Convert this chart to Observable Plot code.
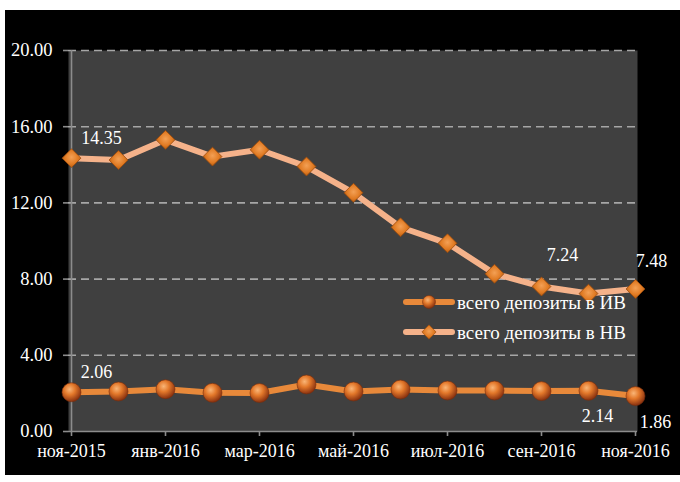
<!DOCTYPE html>
<html>
<head>
<meta charset="utf-8">
<script src="https://cdn.jsdelivr.net/npm/d3@7"></script>
<script src="https://cdn.jsdelivr.net/npm/@observablehq/plot@0.6"></script>
<style>
  html, body { margin: 0; padding: 0; background: #ffffff; }
  #chart { position: absolute; left: 5px; top: 10px; }
  svg { display: block; }
</style>
</head>
<body>
<div id="chart"></div>
<script>
const months = ["ноя-2015","дек-2015","янв-2016","фев-2016","мар-2016","апр-2016","май-2016","июн-2016","июл-2016","авг-2016","сен-2016","окт-2016","ноя-2016"];
const ivValues = [2.06, 2.10, 2.22, 2.03, 2.02, 2.47, 2.10, 2.20, 2.15, 2.15, 2.12, 2.14, 1.86];
const nvValues = [14.35, 14.25, 15.31, 14.43, 14.79, 13.91, 12.53, 10.72, 9.88, 8.28, 7.61, 7.24, 7.48];
const seriesNames = ["всего депозиты в ИВ", "всего депозиты в НВ"];
const yTicks = [0, 4, 8, 12, 16, 20];
const xTicks = months.filter((d, i) => i % 2 === 0);

const data = months.map((m, i) => ({month: m, iv: ivValues[i], nv: nvValues[i]}));
const fmt = d3.format(".2f");
const font = "'Liberation Serif', 'Times New Roman', serif";

const lab = (key, idx, dx, dy) => Plot.text([data[idx]], {
  x: "month", y: key, text: d => fmt(d[key]), dx, dy,
  fill: "white", fontSize: 18, textAnchor: "middle", fontFamily: font
});

const chart = Plot.plot({
  width: 675,
  height: 465,
  marginLeft: 63,
  marginRight: 43,
  marginTop: 40,
  marginBottom: 44,
  style: {background: "black", fontFamily: font, fontSize: "18px", color: "white"},
  x: {type: "point", domain: months, padding: 0},
  y: {domain: [0, 20]},
  marks: [
    Plot.frame({fill: "#404040", stroke: "none"}),
    Plot.ruleY(yTicks.filter(d => d > 0), {stroke: "#a6a6a6", strokeWidth: 1.6, strokeDasharray: "8,5"}),
    Plot.ruleY([0], {stroke: "#8c8c8c", strokeWidth: 1.6}),
    Plot.ruleX([months[0]], {stroke: "#8c8c8c", strokeWidth: 1.6}),
    Plot.axisY({ticks: yTicks, tickFormat: fmt, tickSize: 5, tickPadding: 11, stroke: "#8c8c8c", strokeWidth: 1.6, fill: "white", fontSize: 18.5, fontFamily: font, label: null}),
    Plot.axisX({ticks: xTicks, tickSize: 5, tickPadding: 8, stroke: "#8c8c8c", strokeWidth: 1.6, fill: "white", fontSize: 18, fontFamily: font, label: null}),
    Plot.line(data, {x: "month", y: "nv", stroke: "#f5b28a", strokeWidth: 6, strokeLinejoin: "round", strokeLinecap: "round"}),
    Plot.line(data, {x: "month", y: "iv", stroke: "#e8893a", strokeWidth: 6, strokeLinejoin: "round", strokeLinecap: "round"}),
    Plot.dot(data, {x: "month", y: "nv", symbol: "diamond2", r: 8.5, fill: "url(#diamGrad)", stroke: "#9a4a0c", strokeWidth: 0.8}),
    Plot.dot(data, {x: "month", y: "iv", r: 9.5, fill: "url(#ballGrad)", stroke: "#7a2e0a", strokeWidth: 0.6}),
    lab("nv", 0, 30, -20),
    lab("nv", 11, -26, -38),
    lab("nv", 12, 16, -28),
    lab("iv", 0, 25, -20),
    lab("iv", 11, 9, 26),
    lab("iv", 12, 20, 26)
  ]
});

const svg = d3.select(chart);
const defs = svg.insert("defs", ":first-child");
const bg = defs.append("radialGradient").attr("id", "ballGrad").attr("cx", "40%").attr("cy", "35%").attr("r", "65%");
bg.append("stop").attr("offset", "0%").attr("stop-color", "#f9b577");
bg.append("stop").attr("offset", "45%").attr("stop-color", "#e3782a");
bg.append("stop").attr("offset", "100%").attr("stop-color", "#8a3210");
const dg = defs.append("radialGradient").attr("id", "diamGrad").attr("cx", "50%").attr("cy", "45%").attr("r", "60%");
dg.append("stop").attr("offset", "0%").attr("stop-color", "#f3a055");
dg.append("stop").attr("offset", "60%").attr("stop-color", "#e07a22");
dg.append("stop").attr("offset", "100%").attr("stop-color", "#a9560f");

// Legend inside plot area
const leg = svg.append("g").attr("font-family", font).attr("font-size", 19).attr("fill", "white").attr("text-anchor", "start");
const rows = [
  {name: seriesNames[0], color: "#e8893a", y: 292, kind: "ball"},
  {name: seriesNames[1], color: "#f5b28a", y: 322, kind: "diam"}
];
rows.forEach(r => {
  leg.append("line").attr("x1", 401).attr("x2", 447).attr("y1", r.y).attr("y2", r.y)
    .attr("stroke", r.color).attr("stroke-width", 6).attr("stroke-linecap", "round");
  if (r.kind === "ball") {
    leg.append("circle").attr("cx", 424).attr("cy", r.y).attr("r", 6.5)
      .attr("fill", "url(#ballGrad)").attr("stroke", "#7a2e0a").attr("stroke-width", 0.5);
  } else {
    leg.append("path").attr("d", d3.symbol(d3.symbolDiamond2, 130)()).attr("transform", `translate(424,${r.y})`)
      .attr("fill", "url(#diamGrad)").attr("stroke", "#9a4a0c").attr("stroke-width", 0.6);
  }
  leg.append("text").attr("x", 452).attr("y", r.y).attr("dy", "0.35em").attr("text-anchor", "start").text(r.name);
});

document.getElementById("chart").appendChild(chart);
</script>
</body>
</html>
